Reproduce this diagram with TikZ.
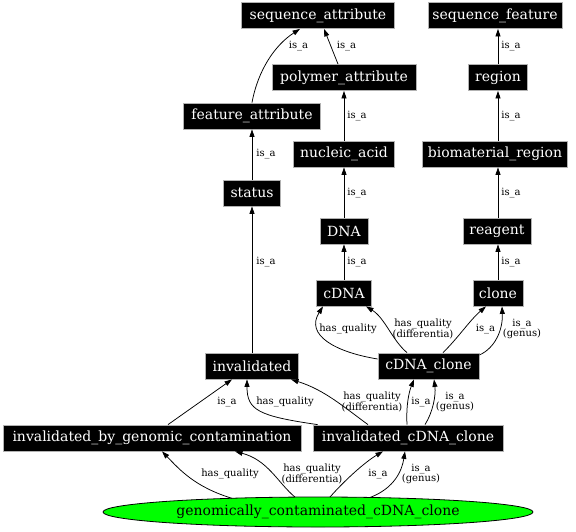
\documentclass[tikz,border=0pt]{standalone}
\usepackage{fontspec}
\setmainfont{DejaVu Serif}
\usetikzlibrary{shapes.geometric,arrows.meta}
\begin{document}
\begin{tikzpicture}[x=1pt,y=-1pt,
 tbox/.style={fill=black,draw=gray!60,line width=0.8pt,text=white,inner sep=0pt,minimum height=26pt,font=\fontsize{14}{16}\selectfont},
 lbl/.style={font=\fontsize{10}{10.7}\selectfont,align=center,inner sep=0pt},
 edge/.style={draw=black,line width=0.75pt,-{Triangle[length=7.5pt,width=5pt]}}]
\useasboundingbox[fill=white] (0,0) rectangle (576,531);
% nodes
\node[tbox,minimum width=153pt] (sa) at (318,15.5) {sequence\_attribute};
\node[tbox,minimum width=134pt] (sf) at (495,15.5) {sequence\_feature};
\node[tbox,minimum width=144pt] (pa) at (344,77.5) {polymer\_attribute};
\node[tbox,minimum width=59pt] (region) at (498,77.5) {region};
\node[tbox,minimum width=137pt] (fa) at (252,116) {feature\_attribute};
\node[tbox,minimum width=101pt] (na) at (344,154) {nucleic\_acid};
\node[tbox,minimum width=145pt] (br) at (495,154) {biomaterial\_region};
\node[tbox,minimum width=57pt] (status) at (252,193) {status};
\node[tbox,minimum width=48pt] (dna) at (344,231) {DNA};
\node[tbox,minimum width=68pt] (reagent) at (497,231) {reagent};
\node[tbox,minimum width=55pt] (cdna) at (344,293) {cDNA};
\node[tbox,minimum width=50pt] (clone) at (498,293) {clone};
\node[tbox,minimum width=93pt] (inv) at (252,366) {invalidated};
\node[tbox,minimum width=101pt] (cc) at (428.5,366) {cDNA\_clone};
\node[tbox,minimum width=298pt] (ibgc) at (152,438) {invalidated\_by\_genomic\_contamination};
\node[tbox,minimum width=190pt] (icc) at (408,438) {invalidated\_cDNA\_clone};
\node[ellipse,fill={rgb,255:red,0;green,255;blue,0},draw=black,line width=0.8pt,inner sep=0pt,minimum width=430pt,minimum height=30pt,font=\fontsize{14}{16}\selectfont] (gc) at (318,512) {genomically\_contaminated\_cDNA\_clone};
% edges from ellipse
\draw[edge] ([shift={(-86,-13.7)}]gc.center) .. controls (195,487) and (180,470) .. ([xshift=10pt]ibgc.south);
\draw[edge] ([shift={(-23,-14.9)}]gc.center) .. controls (278,483) and (268,460) .. ([xshift=83pt]ibgc.south);
\draw[edge] ([shift={(12,-15)}]gc.center) .. controls (345,480) and (365,462) .. ([xshift=-25pt]icc.south);
\draw[edge] ([shift={(52,-14.5)}]gc.center) .. controls (395,488) and (402,470) .. ([xshift=-3pt]icc.south);
% bottom row to middle row
\draw[edge] ([xshift=16pt]ibgc.north) -- ([xshift=-20pt]inv.south);
\draw[edge] ([xshift=5pt]icc.north west) .. controls (258,416) and (247,410) .. ([xshift=-5pt]inv.south);
\draw[edge] ([xshift=-40pt]icc.north) .. controls (345,408) and (325,390) .. ([xshift=39pt]inv.south);
\draw[edge] ([xshift=-1pt]icc.north) .. controls (406,405) and (409,392) .. ([xshift=-14.5pt]cc.south);
\draw[edge] ([xshift=17pt]icc.north) .. controls (433,412) and (436,395) .. ([xshift=5.5pt]cc.south);
% cDNA_clone up
\draw[edge] ([yshift=7pt]cc.west) .. controls (335,352) and (305,335) .. ([xshift=-21pt]cdna.south);
\draw[edge] ([xshift=-21.5pt]cc.north) .. controls (392,340) and (385,318) .. ([xshift=22pt]cdna.south);
\draw[edge] ([xshift=14.5pt]cc.north) .. controls (458,338) and (470,320) .. ([xshift=-12pt]clone.south);
\draw[edge] ([yshift=11pt]cc.east) .. controls (495,348) and (503,330) .. ([xshift=4pt]clone.south);
% left chain
\draw[edge] (inv.north) -- (status.south);
\draw[edge] (status.north) -- (fa.south);
\draw[edge] (fa.north) .. controls (258,70) and (275,45) .. ([xshift=-18pt]sa.south);
\draw[edge] ([xshift=-6pt]pa.north) -- ([xshift=6pt]sa.south);
% middle chain
\draw[edge] (na.north) -- (pa.south);
\draw[edge] (dna.north) -- (na.south);
\draw[edge] (cdna.north) -- (dna.south);
% right chain
\draw[edge] (clone.north) -- (clone.north |- reagent.south);
\draw[edge] (reagent.north -| clone.north) -- (clone.north |- br.south);
\draw[edge] (br.north -| clone.north) -- (clone.north |- region.south);
\draw[edge] (region.north -| clone.north) -- (clone.north |- sf.south);
% labels
\node[lbl] (l1) at (230,474) {has\_quality};
\node[lbl] (l2) at (312,474) {has\_quality\\(differentia)};
\node[lbl] (l3) at (378,474) {is\_a};
\node[lbl] (l4) at (421,474) {is\_a\\(genus)};
\node[lbl] (l5) at (227,402) {is\_a};
\node[lbl] (l6) at (285,402) {has\_quality};
\node[lbl] (l7) at (372,402) {has\_quality\\(differentia)};
\node[lbl] (l8) at (421,402) {is\_a};
\node[lbl] (l9) at (455,402) {is\_a\\(genus)};
\node[lbl] (l10) at (348,329) {has\_quality};
\node[lbl] (l11) at (423,329) {has\_quality\\(differentia)};
\node[lbl] (l12) at (485.5,329) {is\_a};
\node[lbl] (l13) at (522,329) {is\_a\\(genus)};
\node[lbl] (l14) at (266,262) {is\_a};
\node[lbl] (l15) at (266,154) {is\_a};
\node[lbl] (l16) at (298.5,46) {is\_a};
\node[lbl] (l17) at (346.5,46) {is\_a};
\node[lbl] (l18) at (357,116) {is\_a};
\node[lbl] (l19) at (357,193) {is\_a};
\node[lbl] (l20) at (357,262) {is\_a};
\node[lbl] (l21) at (511,46) {is\_a};
\node[lbl] (l22) at (511,116) {is\_a};
\node[lbl] (l23) at (511,193) {is\_a};
\node[lbl] (l24) at (511,262) {is\_a};
\end{tikzpicture}
\end{document}
